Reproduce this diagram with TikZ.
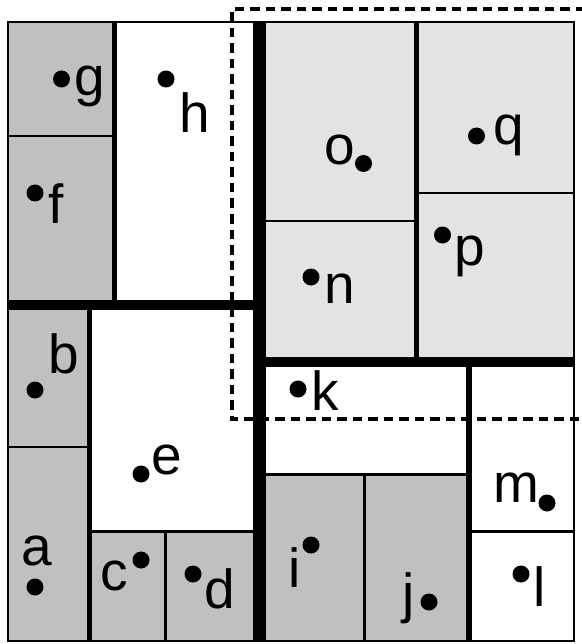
\documentclass[tikz,border=0pt]{standalone}
\usepackage{fontspec}
\setmainfont{Liberation Sans}
\definecolor{darkcell}{RGB}{192,192,192}
\definecolor{lightcell}{RGB}{227,227,227}
\tikzset{
  dot/.style={circle,fill=black,inner sep=0pt,minimum size=17pt},
  lbl/.style={inner sep=0pt,anchor=center,font=\fontsize{55}{60}\selectfont},
  thin/.style={line width=2.2pt},
  mid/.style={line width=3pt},
  wide/.style={line width=5pt},
  bar/.style={line width=10pt},
  bigbar/.style={line width=13pt},
  region/.style={line width=3.4pt,dash pattern=on 9.5pt off 6pt}
}
\begin{document}
\begin{tikzpicture}[x=1pt,y=-1pt]
\useasboundingbox (0,0) rectangle (581,644);
\fill[white] (0,0) rectangle (581,644);
% fills
\fill[darkcell] (8,22) rectangle (114,305);
\fill[darkcell] (8,305) rectangle (89,641);
\fill[darkcell] (89,531) rectangle (259,641);
\fill[lightcell] (259,22) rectangle (574,362);
\fill[darkcell] (259,474) rectangle (469,641);
% lines
\draw[wide] (114.5,22) -- (114.5,305);
\draw[thin] (8,136) -- (114,136);
\draw[bar] (8,305) -- (259,305);
\draw[wide] (89,305) -- (89,641);
\draw[thin] (8,447) -- (89,447);
\draw[mid] (89,531.5) -- (259,531.5);
\draw[thin] (165.5,531) -- (165.5,641);
\draw[wide] (416,22) -- (416,362);
\draw[thin] (259,221) -- (416,221);
\draw[thin] (416,193) -- (574,193);
\draw[bar] (259,362) -- (574,362);
\draw[line width=6pt] (469,362) -- (469,641);
\draw[mid] (259,474) -- (469,474);
\draw[thin] (364.5,474) -- (364.5,641);
\draw[mid] (469,531) -- (574,531);
\draw[bigbar] (259,22) -- (259,641);
% outer border
\draw[line width=2.6pt] (8,22) rectangle (574,641);
% dashed query region
\draw[region] (585,9) -- (232,9) -- (232,419) -- (585,419);
% dots
\node[dot] (pg) at (61.5,79) {};
\node[dot] (ph) at (166,79) {};
\node[dot] (pf) at (35,193) {};
\node[dot] (po) at (363.5,163.5) {};
\node[dot] (pq) at (476.5,136) {};
\node[dot] (pp) at (442.5,235) {};
\node[dot] (pn) at (311,277) {};
\node[dot] (pb) at (35,390) {};
\node[dot] (pa) at (35,587) {};
\node[dot] (pe) at (141,474) {};
\node[dot] (pc) at (141,560) {};
\node[dot] (pd) at (193,574) {};
\node[dot] (pk) at (298,389) {};
\node[dot] (pm) at (547,503) {};
\node[dot] (pi) at (311,545) {};
\node[dot] (pj) at (429,602) {};
\node[dot] (pl) at (521,574) {};
% labels
\node[lbl] (lg) at (89.5,86) {g};
\node[lbl] (lh) at (195,112.5) {h};
\node[lbl] (lf) at (56.5,204) {f};
\node[lbl] (lo) at (340,150) {o};
\node[lbl] (lq) at (508.5,135) {q};
\node[lbl] (lp) at (470,256.5) {p};
\node[lbl] (ln) at (340,288.5) {n};
\node[lbl] (lb) at (63.5,354) {b};
\node[lbl] (la) at (37,551) {a};
\node[lbl] (le) at (166.5,460) {e};
\node[lbl] (lc) at (114.5,575.5) {c};
\node[lbl] (ld) at (220,589) {d};
\node[lbl] (lk) at (325.5,391) {k};
\node[lbl] (lm) at (516.5,487.5) {m};
\node[lbl] (li) at (295,568) {i};
\node[lbl] (lj) at (408.5,598.5) {j};
\node[lbl] (ll) at (540,587) {l};
\end{tikzpicture}
\end{document}
